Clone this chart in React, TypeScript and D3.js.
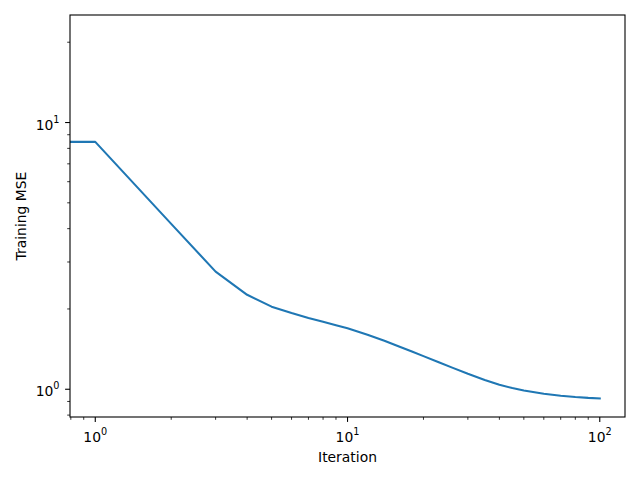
import React from "react";
import * as d3 from "d3";

const iterations = [1, 2, 3, 4, 5, 6, 7, 8, 9, 10, 12, 14, 16, 18, 20, 23, 26, 30, 35, 40, 45, 50, 60, 70, 80, 90, 100];
const mse = [8.46, 4.17, 2.76, 2.26, 2.04, 1.93, 1.85, 1.79, 1.738, 1.692, 1.6, 1.52, 1.447, 1.385, 1.331, 1.262, 1.205, 1.143, 1.084, 1.04, 1.01, 0.989, 0.962, 0.946, 0.935, 0.928, 0.924];
const xMajorTicks = [1, 10, 100];
const xMajorExps = ["0", "1", "2"];
const yMajorTicks = [1, 10];
const yMajorExps = ["0", "1"];
const xLabel = "Iteration";
const yLabel = "Training MSE";

const W = 640;
const H = 480;
const L = 70;
const R = 625;
const T = 15;
const B = 417;
const FONT = "DejaVu Sans, sans-serif";

export default function App() {
  const x = d3.scaleLog().domain([0.794, 125.9]).range([L, R]);
  const y = d3.scaleLog().domain([0.787, 25.3]).range([B, T]);

  const xMinor = x.ticks().filter((t) => !xMajorTicks.some((m) => Math.abs(m - t) < 1e-9));
  const yMinor = y.ticks().filter((t) => !yMajorTicks.some((m) => Math.abs(m - t) < 1e-9));

  const pts: [number, number][] = iterations.map((it, i) => [it, mse[i]]);
  // matplotlib draws the clipped iteration-0 point as a flat segment to the axis edge
  const linePts: [number, number][] = [[x.domain()[0], mse[0]], ...pts];
  const line = d3
    .line<[number, number]>()
    .x((d) => x(d[0]))
    .y((d) => y(d[1]));

  return (
    <svg
      width={W}
      height={H}
      style={{ position: "absolute", left: 0, top: 0, background: "#fff" }}
      fontFamily={FONT}
    >
      <rect x={0} y={0} width={W} height={H} fill="#fff" />
      <defs>
        <clipPath id="plotclip">
          <rect x={L} y={T} width={R - L} height={B - T} />
        </clipPath>
      </defs>
      <path
        d={line(linePts) || ""}
        fill="none"
        stroke="#1f77b4"
        strokeWidth={2.08}
        strokeLinejoin="round"
        strokeLinecap="square"
        clipPath="url(#plotclip)"
      />
      {/* x ticks */}
      {xMinor.map((t) => (
        <line key={"xm" + t} x1={x(t)} x2={x(t)} y1={B} y2={B + 2.8} stroke="#000" strokeWidth={0.8} />
      ))}
      {xMajorTicks.map((t, i) => (
        <g key={"xM" + t}>
          <line x1={x(t)} x2={x(t)} y1={B} y2={B + 4.9} stroke="#000" strokeWidth={1.1} />
          <text x={x(t)} y={441.5} textAnchor="middle" fontSize={13.9} fill="#000">
            <tspan>10</tspan>
            <tspan dy={-7} fontSize={9.7}>
              {xMajorExps[i]}
            </tspan>
          </text>
        </g>
      ))}
      {/* y ticks */}
      {yMinor.map((t) => (
        <line key={"ym" + t} x1={L} x2={L - 2.8} y1={y(t)} y2={y(t)} stroke="#000" strokeWidth={0.8} />
      ))}
      {yMajorTicks.map((t, i) => (
        <g key={"yM" + t}>
          <line x1={L} x2={L - 4.9} y1={y(t)} y2={y(t)} stroke="#000" strokeWidth={1.1} />
          <text x={59.5} y={y(t) + 7} textAnchor="end" fontSize={13.9} fill="#000">
            <tspan>10</tspan>
            <tspan dy={-7} fontSize={9.7}>
              {yMajorExps[i]}
            </tspan>
          </text>
        </g>
      ))}
      {/* spines */}
      <rect x={L} y={T} width={R - L} height={B - T} fill="none" stroke="#000" strokeWidth={1.1} />
      <text x={(L + R) / 2} y={462} textAnchor="middle" fontSize={13.9} fill="#000">
        {xLabel}
      </text>
      <text
        transform={`translate(25.5, ${(T + B) / 2}) rotate(-90)`}
        textAnchor="middle"
        fontSize={13.9}
        fill="#000"
      >
        {yLabel}
      </text>
    </svg>
  );
}
